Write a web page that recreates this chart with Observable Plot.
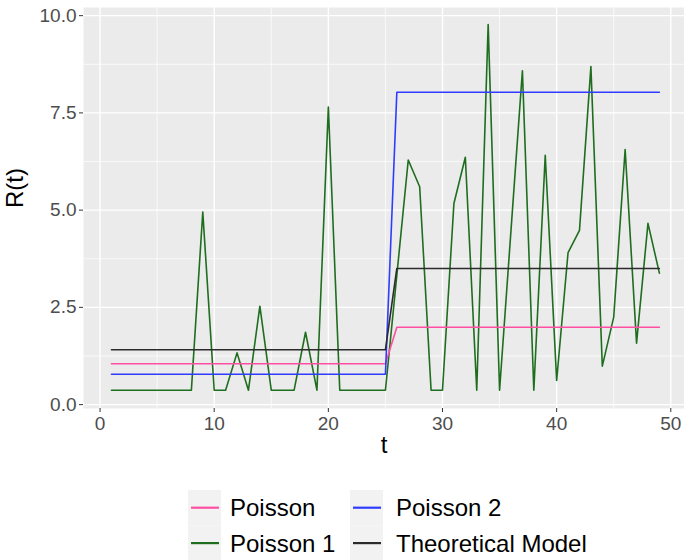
<!DOCTYPE html>
<html>
<head>
<meta charset="utf-8">
<script src="https://cdn.jsdelivr.net/npm/d3@7"></script>
<script src="https://cdn.jsdelivr.net/npm/@observablehq/plot@0.6"></script>
<style>
  body { margin: 0; background: #fff; }
  #wrap { width: 684px; height: 560px; position: relative; font-family: "Liberation Sans", Arial, sans-serif; }
  svg { display: block; }
</style>
</head>
<body>
<div id="wrap"></div>
<script>
const t = [1,2,3,4,5,6,7,8,9,10,11,12,13,14,15,16,17,18,19,20,21,22,23,24,25,26,27,28,29,30,31,32,33,34,35,36,37,38,39,40,41,42,43,44,45,46,47,48,49];
const poisson = [1.05,1.05,1.05,1.05,1.05,1.05,1.05,1.05,1.05,1.05,1.05,1.05,1.05,1.05,1.05,1.05,1.05,1.05,1.05,1.05,1.05,1.05,1.05,1.05,1.05,
  1.99,1.99,1.99,1.99,1.99,1.99,1.99,1.99,1.99,1.99,1.99,1.99,1.99,1.99,1.99,1.99,1.99,1.99,1.99,1.99,1.99,1.99,1.99,1.99];
const poisson1 = [0.37,0.37,0.37,0.37,0.37,0.37,0.37,0.37,4.95,0.37,0.37,1.33,0.37,2.53,0.37,0.37,0.37,1.86,0.37,7.65,0.37,0.37,0.37,0.37,0.37,
  3.33,6.29,5.60,0.37,0.37,5.17,6.36,0.37,9.77,0.37,4.48,8.58,0.37,6.41,0.62,3.91,4.48,8.69,0.99,2.25,6.56,1.58,4.66,3.38];
const poisson2 = [0.78,0.78,0.78,0.78,0.78,0.78,0.78,0.78,0.78,0.78,0.78,0.78,0.78,0.78,0.78,0.78,0.78,0.78,0.78,0.78,0.78,0.78,0.78,0.78,0.78,
  8.03,8.03,8.03,8.03,8.03,8.03,8.03,8.03,8.03,8.03,8.03,8.03,8.03,8.03,8.03,8.03,8.03,8.03,8.03,8.03,8.03,8.03,8.03,8.03];
const theoretical = [1.41,1.41,1.41,1.41,1.41,1.41,1.41,1.41,1.41,1.41,1.41,1.41,1.41,1.41,1.41,1.41,1.41,1.41,1.41,1.41,1.41,1.41,1.41,1.41,1.41,
  3.50,3.50,3.50,3.50,3.50,3.50,3.50,3.50,3.50,3.50,3.50,3.50,3.50,3.50,3.50,3.50,3.50,3.50,3.50,3.50,3.50,3.50,3.50,3.50];

const seriesNames = ["Poisson", "Poisson 1", "Poisson 2", "Theoretical Model"];
const seriesValues = [poisson, poisson1, poisson2, theoretical];
const seriesColors = ["#ff4fa3", "#1f6e1f", "#2f3cff", "#2b2b2b"];
// draw order: Poisson1 first so flat lines overlay similar to reference
const drawOrder = [1, 0, 2, 3];

const xTicks = [0, 10, 20, 30, 40, 50];
const xMinor = [5, 15, 25, 35, 45];
const yTicks = [0, 2.5, 5, 7.5, 10];
const yMinor = [1.25, 3.75, 6.25, 8.75];

const rows = [];
seriesNames.forEach((name, i) => {
  t.forEach((tv, j) => rows.push({ t: tv, value: seriesValues[i][j], series: name }));
});

const plot = Plot.plot({
  width: 684,
  height: 475,
  marginLeft: 83,
  marginRight: 0,
  marginTop: 7,
  marginBottom: 67,
  style: { fontFamily: "Liberation Sans, Arial, sans-serif", background: "white" },
  x: { domain: [-1.45, 51.2] },
  y: { domain: [-0.1, 10.21] },
  marks: [
    Plot.frame({ fill: "#ebebeb", stroke: null }),
    Plot.ruleX(xMinor, { stroke: "white", strokeWidth: 0.7 }),
    Plot.ruleY(yMinor, { stroke: "white", strokeWidth: 0.7 }),
    Plot.ruleX(xTicks, { stroke: "white", strokeWidth: 1.4 }),
    Plot.ruleY(yTicks, { stroke: "white", strokeWidth: 1.4 }),
    ...drawOrder.map(i => Plot.line(rows.filter(d => d.series === seriesNames[i]), {
      x: "t", y: "value", stroke: seriesColors[i], strokeWidth: 1.6
    })),
    Plot.axisX(xTicks, { tickSize: 4, tickPadding: 4, fontSize: 19, color: "#4d4d4d", stroke: "#333", label: null, tickFormat: d3.format("d") }),
    Plot.axisY(yTicks, { tickSize: 4, tickPadding: 3, fontSize: 19, color: "#4d4d4d", stroke: "#333", label: null, tickFormat: d3.format(".1f") }),
    Plot.text(["t"], { frameAnchor: "bottom", dy: 44, fontSize: 24, fill: "black" }),
    Plot.text(["R(t)"], { frameAnchor: "left", dx: -68, rotate: -90, fontSize: 24, fill: "black" })
  ]
});
document.getElementById("wrap").appendChild(plot);

// Legend (two columns, two rows, ggplot style)
const legendOrder = [[0, 2], [1, 3]]; // rows: [Poisson, Poisson 2], [Poisson 1, Theoretical Model]
const colKeyX = [188, 350];
const colTextX = [230, 396];
const rowTop = [15, 50.4];
const keyH = 35.4, keyW = 33;
const lg = d3.create("svg").attr("width", 684).attr("height", 85)
  .style("font-family", "Liberation Sans, Arial, sans-serif");
legendOrder.forEach((row, r) => {
  row.forEach((si, c) => {
    lg.append("rect").attr("x", colKeyX[c]).attr("y", rowTop[r]).attr("width", keyW).attr("height", keyH).attr("fill", "#f2f2f2");
    const cy = rowTop[r] + keyH / 2;
    lg.append("line").attr("x1", colKeyX[c] + 3).attr("x2", colKeyX[c] + keyW - 2)
      .attr("y1", cy).attr("y2", cy).attr("stroke", seriesColors[si]).attr("stroke-width", 2.2);
    lg.append("text").attr("x", colTextX[c]).attr("y", cy + 8.5).attr("font-size", 24).attr("fill", "black")
      .text(seriesNames[si]);
  });
});
document.getElementById("wrap").appendChild(lg.node());
</script>
</body>
</html>
